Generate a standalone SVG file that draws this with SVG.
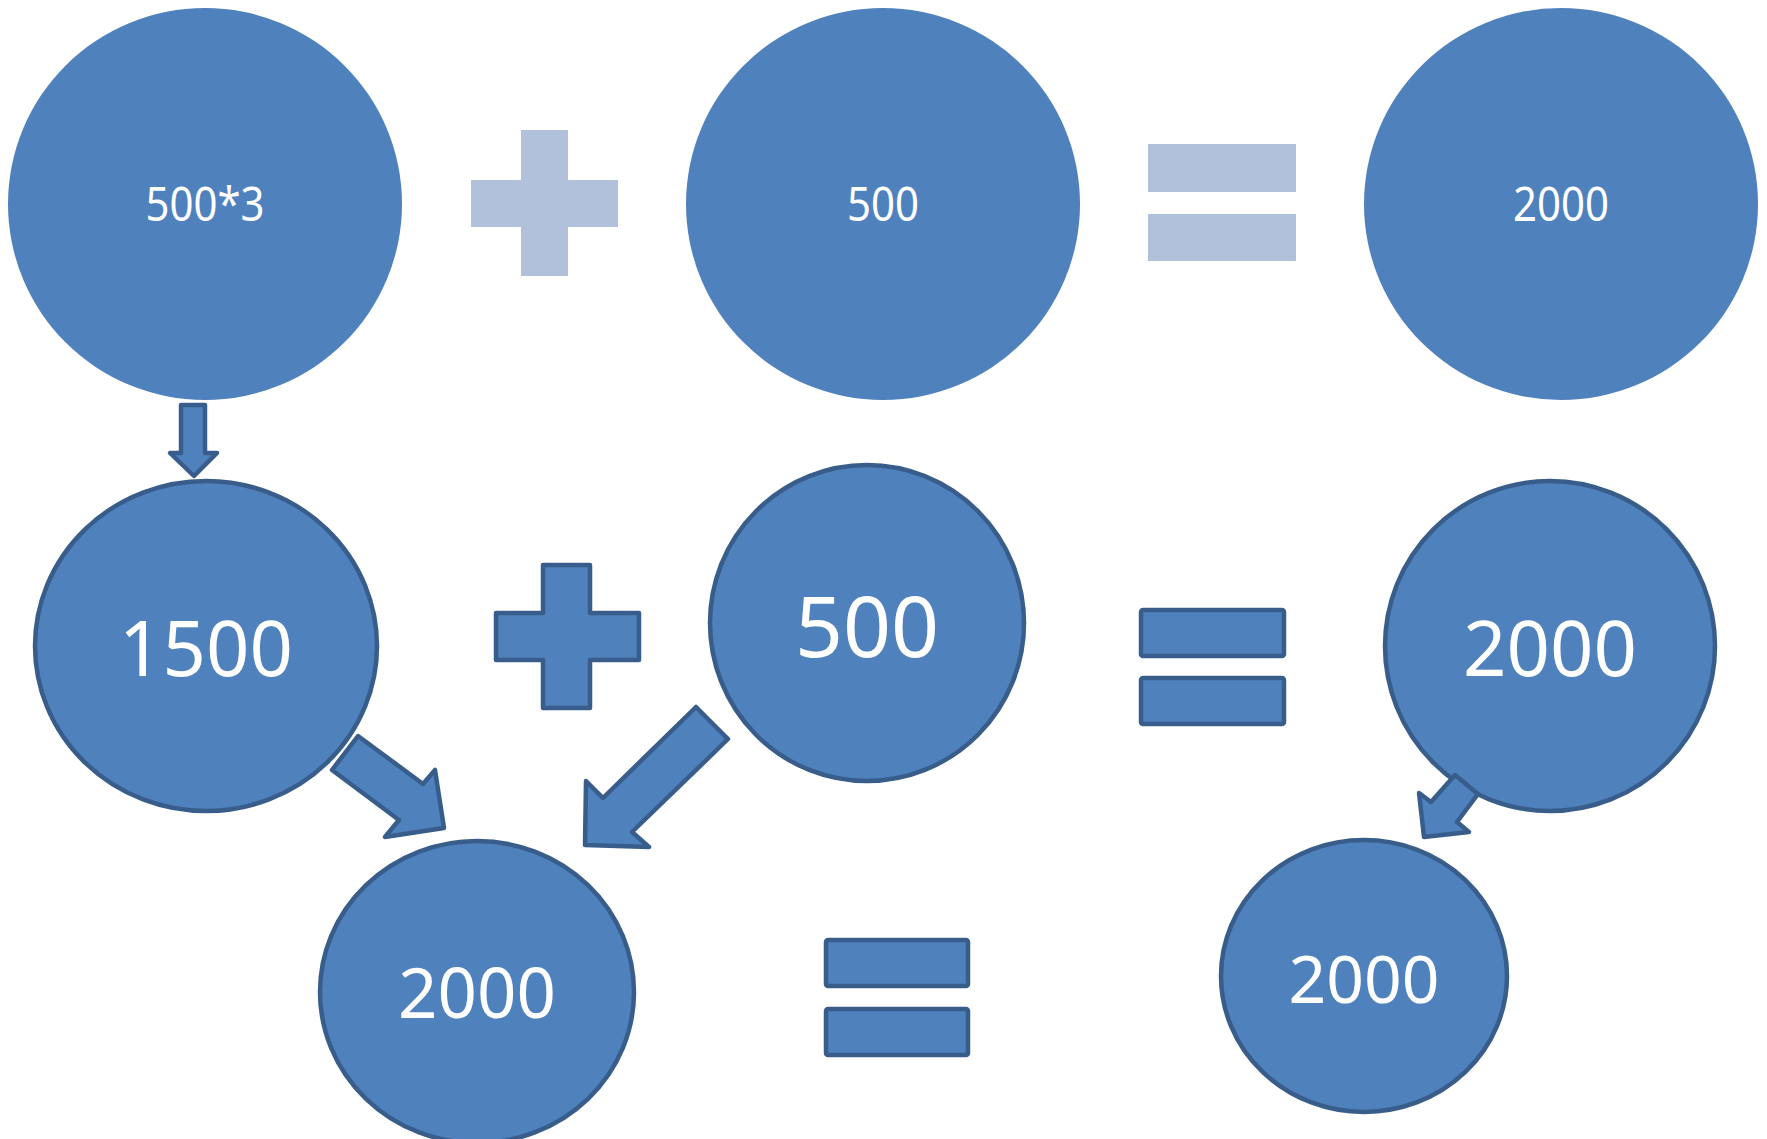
<svg xmlns="http://www.w3.org/2000/svg" width="1767" height="1139" viewBox="0 0 1767 1139">
<style>
.c{fill:#4F81BD}
.o{fill:#4F81BD;stroke:#385D8A;stroke-width:4.5;stroke-linejoin:round}
.l{fill:#B1C1DB}
.t{fill:#FFFFFF;font-family:"Noto Sans","Open Sans","DejaVu Sans",sans-serif;text-anchor:middle}
</style>
<rect width="1767" height="1139" fill="#FFFFFF"/>
<g id="n-top1"><ellipse class="c" cx="205" cy="204" rx="197" ry="196"/><text class="t" x="205" y="221" font-size="47" textLength="119" lengthAdjust="spacingAndGlyphs">500*3</text></g>
<g id="op-plus-top"><rect class="l" x="521" y="130" width="47" height="146"/><rect class="l" x="471" y="180" width="147" height="47"/></g>
<g id="n-top2"><ellipse class="c" cx="883" cy="204" rx="197" ry="196"/><text class="t" x="883" y="221" font-size="47" textLength="72" lengthAdjust="spacingAndGlyphs">500</text></g>
<g id="op-eq-top"><rect class="l" x="1148" y="144" width="148" height="48"/><rect class="l" x="1148" y="214" width="148" height="47"/></g>
<g id="n-top3"><ellipse class="c" cx="1561" cy="204" rx="197" ry="196"/><text class="t" x="1561" y="221" font-size="47" textLength="96" lengthAdjust="spacingAndGlyphs">2000</text></g>

<g id="n-1500"><ellipse class="o" cx="206" cy="646" rx="171" ry="165"/><text class="t" x="206" y="676" font-size="76">1500</text></g>
<g id="op-plus-mid"><path class="o" d="M543,565 H590 V613 H639 V660 H590 V708 H543 V660 H496 V613 H543 Z"/></g>
<g id="n-500"><ellipse class="o" cx="867" cy="623" rx="157" ry="158"/><text class="t" x="867" y="657" font-size="84">500</text></g>
<g id="op-eq-mid"><rect class="o" x="1141" y="610" width="143" height="46" rx="2"/><rect class="o" x="1141" y="678" width="143" height="46" rx="2"/></g>
<g id="n-2000-mid"><ellipse class="o" cx="1550" cy="646" rx="165" ry="165"/><text class="t" x="1550" y="676" font-size="76">2000</text></g>

<g id="n-2000-bl"><ellipse class="o" cx="477" cy="992" rx="157" ry="151"/><text class="t" x="477" y="1018" font-size="69">2000</text></g>
<g id="op-eq-bot"><rect class="o" x="826" y="940" width="142" height="46" rx="2"/><rect class="o" x="826" y="1009" width="142" height="46" rx="2"/></g>
<g id="n-2000-br"><ellipse class="o" cx="1364" cy="976" rx="143" ry="136"/><text class="t" x="1364" y="1003" font-size="66">2000</text></g>

<g id="connectors">
<path class="o" d="M181,405 H205 V453 H217 L194,476 L170,453 H181 Z"/>
<path class="o" d="M358,736 L423,784 L435,770 L444,828 L385,837 L399,820 L332,770 Z"/>
<path class="o" d="M696,707 L728,739 L632,832 L649,847 L585,845 L586,781 L603,798 Z"/>
<path class="o" d="M1455,775 L1478,794 L1457,822 L1469,832 L1424,837 L1419,793 L1431,802 Z"/>
</g>
</svg>
